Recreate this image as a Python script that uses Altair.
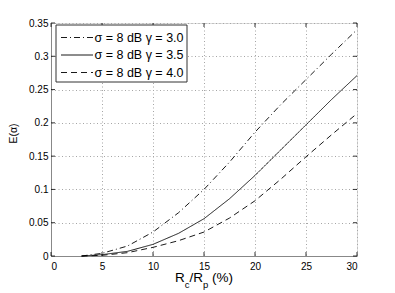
import altair as alt
import pandas as pd

# ---- data ----
x_vals = [3, 5, 7.5, 10, 12.5, 15, 17.5, 20, 22.5, 25, 27.5, 30]
g30 = [0, 0.004, 0.015, 0.036, 0.065, 0.100, 0.141, 0.186, 0.227, 0.265, 0.303, 0.340]
g35 = [0, 0.002, 0.007, 0.0175, 0.034, 0.056, 0.086, 0.121, 0.159, 0.197, 0.235, 0.271]
g40 = [0, 0.001, 0.005, 0.013, 0.023, 0.036, 0.057, 0.083, 0.115, 0.149, 0.182, 0.214]
series = ["σ = 8 dB γ = 3.0", "σ = 8 dB γ = 3.5", "σ = 8 dB γ = 4.0"]
dashes = [[6, 3, 1, 3], [1, 0], [6, 4]]
x_ticks = [0, 5, 10, 15, 20, 25, 30]
y_ticks = [0, 0.05, 0.1, 0.15, 0.2, 0.25, 0.3, 0.35]

W, H = 306, 233
FONT = "Liberation Sans"

rows = []
for name, ys in zip(series, [g30, g35, g40]):
    for x, y in zip(x_vals, ys):
        rows.append({"x": x, "y": y, "s": name})
df = pd.DataFrame(rows)

xs = alt.Scale(domain=[0, 30], nice=False)
ys_ = alt.Scale(domain=[0, 0.35], nice=False)
dash_scale = alt.Scale(domain=series, range=dashes)

grid_kw = dict(grid=True, gridColor="#a5a5a5", gridDash=[1, 2.5], gridWidth=1, gridOpacity=1)
x_axis = alt.Axis(values=x_ticks, title=None, ticks=False, labelPadding=5,
                  labelOverlap=False, **grid_kw)
y_axis = alt.Axis(values=y_ticks, title="E(α)", format="~g", ticks=False,
                  labelPadding=3, labelOverlap=False, titleFontSize=10.5,
                  titleFontWeight="normal", titleX=-35, titleY=110, titleAlign="center",
                  titleBaseline="alphabetic", titleAngle=270, **grid_kw)

lines = alt.Chart(df).mark_line(color="black", strokeWidth=0.9).encode(
    x=alt.X("x:Q", scale=xs, axis=x_axis),
    y=alt.Y("y:Q", scale=ys_, axis=y_axis),
    strokeDash=alt.StrokeDash("s:N", scale=dash_scale, legend=None),
)

xt = pd.DataFrame({"x": x_ticks})
yt = pd.DataFrame({"y": y_ticks})
tb = alt.Chart(xt).mark_rule(color="black", strokeWidth=0.8).encode(
    x=alt.X("x:Q", scale=xs, axis=x_axis), y=alt.value(H), y2=alt.value(H - 4))
tt = alt.Chart(xt).mark_rule(color="black", strokeWidth=0.8).encode(
    x=alt.X("x:Q", scale=xs, axis=x_axis), y=alt.value(0), y2=alt.value(4))
tl = alt.Chart(yt).mark_rule(color="black", strokeWidth=0.8).encode(
    y=alt.Y("y:Q", scale=ys_, axis=y_axis), x=alt.value(0), x2=alt.value(4))
tr = alt.Chart(yt).mark_rule(color="black", strokeWidth=0.8).encode(
    y=alt.Y("y:Q", scale=ys_, axis=y_axis), x=alt.value(W), x2=alt.value(W - 4))

# legend (drawn by hand to match the boxed MATLAB legend)
legend_layers = [
    alt.Chart(pd.DataFrame({"a": [0]})).mark_rect(
        fill="white", stroke="#333", strokeWidth=1
    ).encode(x=alt.value(5), x2=alt.value(136), y=alt.value(2), y2=alt.value(59))
]
row_y = [14.5, 32, 49.5]
for name, dash, ry in zip(series, dashes, row_y):
    d = pd.DataFrame({"s": [name]})
    legend_layers.append(
        alt.Chart(d).mark_rule(color="black", strokeWidth=0.9).encode(
            x=alt.value(10), x2=alt.value(42), y=alt.value(ry),
            strokeDash=alt.StrokeDash("s:N", scale=dash_scale, legend=None))
    )
    legend_layers.append(
        alt.Chart(d).mark_text(align="left", baseline="middle", fontSize=12.5,
                               font=FONT, color="black").encode(
            text="s:N", x=alt.value(43.5), y=alt.value(ry))
    )

# x-axis title with subscripts
pieces = [("R", 13.5, 0), ("c", 9.5, 6), ("/", 13.5, 0), ("R", 13.5, 0), ("p", 9.5, 6), ("(%)", 13.5, 0)]
offsets = [0, 9.75, 14.5, 18.25, 28.0, 37.0]
x0 = W / 2 - 29
base = H + 26
title_layers = []
for (txt, fs, dy), off in zip(pieces, offsets):
    title_layers.append(
        alt.Chart(pd.DataFrame({"t": [txt]})).mark_text(
            align="left", baseline="alphabetic", fontSize=fs, font=FONT, color="black"
        ).encode(text="t:N", x=alt.value(x0 + off), y=alt.value(base + dy))
    )

chart = alt.layer(lines, tb, tt, tl, tr, *legend_layers, *title_layers).properties(
    width=W, height=H,
    autosize=alt.AutoSizeParams(type="none"),
    padding={"left": 43, "top": 15, "right": 30, "bottom": 37},
).configure_view(stroke="black", strokeWidth=1).configure_axis(
    domain=False, labelFont=FONT, titleFont=FONT, labelFontSize=10.5, labelColor="black",
    titleColor="black",
).configure(background="white")

chart.save("out.html", embed_options={"renderer": "svg", "actions": False})
